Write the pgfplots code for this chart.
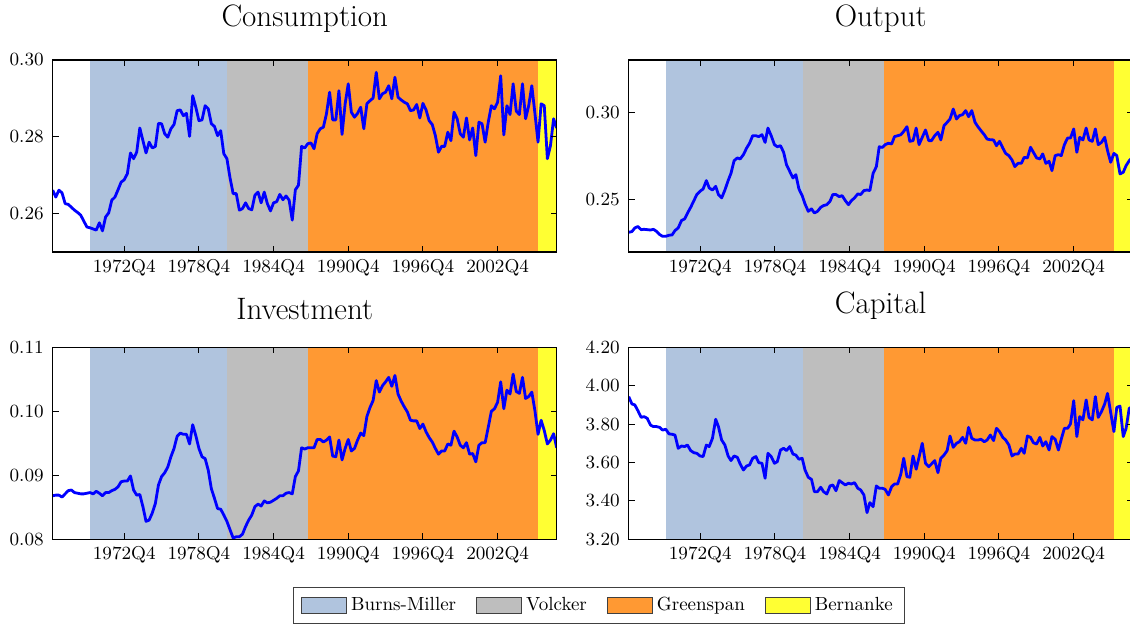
\documentclass[border=0pt]{standalone}
\usepackage{pgfplots}
\pgfplotsset{compat=1.18}
\definecolor{burns}{HTML}{B0C4DE}
\definecolor{volcker}{HTML}{BEBEBE}
\definecolor{greenspan}{HTML}{FF9933}
\definecolor{bernanke}{HTML}{FFFF33}
\definecolor{lineblue}{HTML}{0000FF}

% Fed chair regimes as shaded bands, #1 = ymin, #2 = ymax
\newcommand{\regimes}[2]{%
  \addplot[draw=none, fill=burns] coordinates {(1970,#1) (1970,#2) (1981,#2) (1981,#1)};
  \addplot[draw=none, fill=volcker] coordinates {(1981,#1) (1981,#2) (1987.5,#2) (1987.5,#1)};
  \addplot[draw=none, fill=greenspan] coordinates {(1987.5,#1) (1987.5,#2) (2006,#2) (2006,#1)};
  \addplot[draw=none, fill=bernanke] coordinates {(2006,#1) (2006,#2) (2007.5,#2) (2007.5,#1)};
}

\pgfplotsset{
  panel/.style={
    width=252pt, height=96pt, scale only axis,
    anchor=north west,
    xmin=1967, xmax=2007.5,
    axis on top,
    xtick={1972.75,1978.75,1984.75,1990.75,1996.75,2002.75},
    xticklabels={1972Q4,1978Q4,1984Q4,1990Q4,1996Q4,2002Q4},
    xtick pos=both, ytick pos=both,
    xticklabel pos=lower, yticklabel pos=left,
    tick align=inside,
    major tick length=3pt,
    minor tick num=0,
    tick style={black, line width=0.5pt},
    axis line style={black, line width=0.6pt},
    scaled y ticks=false,
    /pgf/number format/fixed,
    /pgf/number format/fixed zerofill,
    /pgf/number format/precision=2,
    /pgf/number format/assume math mode=true,
    ticklabel style={font=\fontsize{9.3}{11}\selectfont},
    yticklabel style={xshift=-1pt},
    title style={font=\fontsize{15.5}{18}\selectfont, at={(0.5,1)}, anchor=south, inner sep=0pt, yshift=7.5pt},
  },
  series/.style={color=lineblue, line width=1.4pt, line join=round, mark=none},
}

\begin{document}
\begin{tikzpicture}

\begin{axis}[panel, at={(26.35pt,-30pt)}, title={Consumption},
  ymin=0.25, ymax=0.30, ytick={0.26,0.28,0.30}]
\regimes{0.25}{0.30}
\addplot[series] coordinates {
(1967.00,0.2661) (1967.25,0.2643) (1967.50,0.2661) (1967.75,0.2654) (1968.00,0.2626) (1968.25,0.2624)
(1968.75,0.2609) (1969.00,0.2603) (1969.25,0.2596) (1969.75,0.2565) (1970.00,0.2563) (1970.50,0.2557)
(1970.75,0.2576) (1971.00,0.2555) (1971.25,0.2591) (1971.50,0.2602) (1971.75,0.2635) (1972.00,0.2643)
(1972.25,0.2662) (1972.50,0.2682) (1972.75,0.2688) (1973.00,0.2704) (1973.25,0.2758) (1973.50,0.2743)
(1973.75,0.2760) (1974.00,0.2823) (1974.25,0.2790) (1974.50,0.2758) (1974.75,0.2786) (1975.00,0.2771)
(1975.25,0.2775) (1975.50,0.2835) (1975.75,0.2834) (1976.00,0.2808) (1976.25,0.2799) (1976.50,0.2821)
(1976.75,0.2832) (1977.00,0.2868) (1977.25,0.2870) (1977.50,0.2855) (1977.75,0.2861) (1978.00,0.2801)
(1978.25,0.2907) (1978.50,0.2877) (1978.75,0.2842) (1979.00,0.2844) (1979.25,0.2881) (1979.50,0.2873)
(1979.75,0.2834) (1980.00,0.2827) (1980.25,0.2803) (1980.50,0.2816) (1980.75,0.2756) (1981.00,0.2743)
(1981.25,0.2693) (1981.50,0.2652) (1981.75,0.2652) (1982.00,0.2609) (1982.25,0.2613) (1982.50,0.2628)
(1982.75,0.2613) (1983.00,0.2610) (1983.25,0.2648) (1983.50,0.2656) (1983.75,0.2628) (1984.00,0.2656)
(1984.25,0.2626) (1984.50,0.2607) (1984.75,0.2628) (1985.00,0.2631) (1985.25,0.2650) (1985.50,0.2636)
(1985.75,0.2646) (1986.00,0.2635) (1986.25,0.2583) (1986.50,0.2662) (1986.75,0.2674) (1987.00,0.2775)
(1987.25,0.2771) (1987.50,0.2782) (1987.75,0.2784) (1988.00,0.2769) (1988.25,0.2808) (1988.50,0.2821)
(1988.75,0.2825) (1989.00,0.2860) (1989.25,0.2916) (1989.50,0.2844) (1989.75,0.2844) (1990.00,0.2920)
(1990.25,0.2806) (1990.50,0.2886) (1990.75,0.2938) (1991.00,0.2864) (1991.25,0.2851) (1991.50,0.2861)
(1991.75,0.2877) (1992.00,0.2821) (1992.25,0.2886) (1992.50,0.2894) (1992.75,0.2901) (1993.00,0.2968)
(1993.25,0.2899) (1993.50,0.2912) (1993.75,0.2916) (1994.00,0.2933) (1994.25,0.2899) (1994.50,0.2955)
(1994.75,0.2903) (1995.00,0.2896) (1995.25,0.2890) (1995.50,0.2886) (1995.75,0.2868) (1996.00,0.2870)
(1996.25,0.2884) (1996.50,0.2849) (1996.75,0.2887) (1997.00,0.2870) (1997.25,0.2842) (1997.50,0.2832)
(1997.75,0.2803) (1998.00,0.2760) (1998.25,0.2775) (1998.50,0.2775) (1998.75,0.2812) (1999.00,0.2790)
(1999.25,0.2864) (1999.50,0.2847) (1999.75,0.2808) (2000.00,0.2799) (2000.25,0.2849) (2000.50,0.2792)
(2000.75,0.2823) (2001.00,0.2751) (2001.25,0.2838) (2001.50,0.2834) (2001.75,0.2786) (2002.00,0.2838)
(2002.25,0.2881) (2002.50,0.2873) (2002.75,0.2890) (2003.00,0.2959) (2003.25,0.2805) (2003.50,0.2881)
(2003.75,0.2858) (2004.00,0.2938) (2004.25,0.2867) (2004.50,0.2858) (2004.75,0.2938) (2005.00,0.2847)
(2005.25,0.2881) (2005.50,0.2933) (2005.75,0.2861) (2006.00,0.2786) (2006.25,0.2886) (2006.50,0.2881)
(2006.75,0.2743) (2007.00,0.2777) (2007.25,0.2847) (2007.50,0.2823)
};
\end{axis}

\begin{axis}[panel, at={(314.35pt,-30pt)}, title={Output},
  ymin=0.22, ymax=0.33, ytick={0.25,0.30}]
\regimes{0.22}{0.33}
\addplot[series] coordinates {
(1967.00,0.2313) (1967.26,0.2317) (1967.49,0.2338) (1967.74,0.2346) (1968.00,0.2328) (1968.23,0.2330)
(1968.49,0.2328) (1968.75,0.2326) (1968.98,0.2330) (1969.23,0.2319) (1969.49,0.2300) (1969.72,0.2290)
(1969.98,0.2290) (1970.24,0.2296) (1970.49,0.2298) (1970.72,0.2323) (1970.98,0.2338) (1971.24,0.2380)
(1971.49,0.2389) (1971.72,0.2422) (1971.98,0.2456) (1972.24,0.2494) (1972.47,0.2529) (1972.73,0.2548)
(1972.98,0.2561) (1973.24,0.2609) (1973.47,0.2567) (1973.73,0.2555) (1973.99,0.2576) (1974.21,0.2529)
(1974.47,0.2510) (1974.73,0.2555) (1974.99,0.2609) (1975.22,0.2651) (1975.47,0.2723) (1975.73,0.2739)
(1975.96,0.2733) (1976.22,0.2758) (1976.48,0.2796) (1976.71,0.2823) (1976.96,0.2866) (1977.22,0.2866)
(1977.45,0.2861) (1977.71,0.2872) (1977.96,0.2828) (1978.19,0.2910) (1978.45,0.2866) (1978.71,0.2815)
(1978.94,0.2803) (1979.20,0.2809) (1979.45,0.2771) (1979.68,0.2700) (1979.94,0.2662) (1980.20,0.2624)
(1980.43,0.2643) (1980.68,0.2561) (1980.94,0.2523) (1981.17,0.2475) (1981.43,0.2433) (1981.69,0.2447)
(1981.92,0.2424) (1982.17,0.2433) (1982.43,0.2456) (1982.66,0.2466) (1982.92,0.2471) (1983.18,0.2491)
(1983.40,0.2529) (1983.66,0.2529) (1983.92,0.2517) (1984.15,0.2523) (1984.41,0.2494) (1984.66,0.2471)
(1984.89,0.2494) (1985.15,0.2510) (1985.41,0.2533) (1985.64,0.2529) (1985.90,0.2552) (1986.15,0.2555)
(1986.38,0.2552) (1986.64,0.2651) (1986.90,0.2689) (1987.13,0.2803) (1987.38,0.2799) (1987.61,0.2815)
(1987.87,0.2823) (1988.13,0.2819) (1988.36,0.2861) (1988.61,0.2866) (1988.87,0.2872) (1989.10,0.2891)
(1989.36,0.2918) (1989.59,0.2834) (1989.85,0.2838) (1990.10,0.2910) (1990.33,0.2815) (1990.59,0.2857)
(1990.85,0.2899) (1991.11,0.2838) (1991.33,0.2838) (1991.59,0.2866) (1991.85,0.2886) (1992.08,0.2842)
(1992.34,0.2924) (1992.59,0.2943) (1992.82,0.2962) (1993.08,0.3019) (1993.34,0.2962) (1993.57,0.2981)
(1993.83,0.2987) (1994.08,0.3010) (1994.31,0.2975) (1994.57,0.3010) (1994.83,0.2943) (1995.06,0.2918)
(1995.31,0.2895) (1995.57,0.2872) (1995.80,0.2847) (1996.06,0.2843) (1996.32,0.2842) (1996.55,0.2809)
(1996.80,0.2834) (1997.06,0.2796) (1997.29,0.2765) (1997.55,0.2752) (1997.80,0.2727) (1998.03,0.2689)
(1998.29,0.2708) (1998.55,0.2708) (1998.78,0.2742) (1999.04,0.2739) (1999.29,0.2800) (1999.52,0.2771)
(1999.78,0.2739) (2000.04,0.2733) (2000.27,0.2762) (2000.52,0.2708) (2000.78,0.2720) (2001.01,0.2666)
(2001.27,0.2752) (2001.53,0.2758) (2001.76,0.2752) (2002.01,0.2815) (2002.27,0.2853) (2002.50,0.2853)
(2002.76,0.2905) (2003.01,0.2771) (2003.24,0.2857) (2003.50,0.2842) (2003.76,0.2910) (2003.99,0.2842)
(2004.25,0.2834) (2004.50,0.2905) (2004.73,0.2815) (2004.99,0.2828) (2005.25,0.2857) (2005.48,0.2780)
(2005.73,0.2714) (2005.99,0.2765) (2006.22,0.2752) (2006.48,0.2647) (2006.74,0.2657) (2006.97,0.2695)
(2007.22,0.2723) (2007.48,0.2742)
};
\end{axis}

\begin{axis}[panel, at={(26.35pt,-173.65pt)}, title={Investment},
  ymin=0.08, ymax=0.11, ytick={0.08,0.09,0.10,0.11}]
\regimes{0.08}{0.11}
\addplot[series] coordinates {
(1967.00,0.0868) (1967.25,0.0869) (1967.50,0.0869) (1967.75,0.0866) (1968.00,0.0871) (1968.25,0.0876)
(1968.50,0.0877) (1968.75,0.0873) (1969.00,0.0872) (1969.25,0.0871) (1969.50,0.0871) (1969.75,0.0872)
(1970.00,0.0873) (1970.25,0.0871) (1970.50,0.0875) (1970.75,0.0872) (1971.00,0.0868) (1971.25,0.0873)
(1971.50,0.0873) (1971.75,0.0876) (1972.00,0.0878) (1972.25,0.0882) (1972.50,0.0890) (1972.75,0.0891)
(1973.00,0.0891) (1973.25,0.0899) (1973.50,0.0877) (1973.75,0.0869) (1974.00,0.0870) (1974.25,0.0851)
(1974.50,0.0828) (1974.75,0.0830) (1975.00,0.0841) (1975.25,0.0856) (1975.50,0.0885) (1975.75,0.0898)
(1976.00,0.0904) (1976.25,0.0913) (1976.50,0.0929) (1976.75,0.0942) (1977.00,0.0961) (1977.25,0.0966)
(1977.50,0.0964) (1977.75,0.0964) (1978.00,0.0949) (1978.25,0.0979) (1978.50,0.0962) (1978.75,0.0942)
(1979.00,0.0929) (1979.25,0.0926) (1979.50,0.0908) (1979.75,0.0879) (1980.00,0.0864) (1980.25,0.0848)
(1980.50,0.0847) (1980.75,0.0838) (1981.00,0.0828) (1981.25,0.0815) (1981.50,0.0802) (1981.75,0.0804)
(1982.00,0.0804) (1982.25,0.0808) (1982.50,0.0820) (1982.75,0.0830) (1983.00,0.0838) (1983.25,0.0851)
(1983.50,0.0855) (1983.75,0.0852) (1984.00,0.0860) (1984.25,0.0857) (1984.50,0.0858) (1984.75,0.0861)
(1985.00,0.0864) (1985.25,0.0868) (1985.50,0.0868) (1985.75,0.0872) (1986.00,0.0873) (1986.25,0.0871)
(1986.50,0.0898) (1986.75,0.0907) (1987.00,0.0943) (1987.25,0.0941) (1987.50,0.0943) (1987.75,0.0943)
(1988.00,0.0943) (1988.25,0.0956) (1988.50,0.0956) (1988.75,0.0952) (1989.00,0.0955) (1989.25,0.0960)
(1989.50,0.0930) (1989.75,0.0929) (1990.00,0.0955) (1990.25,0.0924) (1990.50,0.0942) (1990.75,0.0956)
(1991.00,0.0938) (1991.25,0.0942) (1991.50,0.0955) (1991.75,0.0966) (1992.00,0.0962) (1992.25,0.0992)
(1992.50,0.1006) (1992.75,0.1017) (1993.00,0.1048) (1993.25,0.1030) (1993.50,0.1040) (1993.75,0.1046)
(1994.00,0.1053) (1994.25,0.1039) (1994.50,0.1056) (1994.75,0.1027) (1995.00,0.1016) (1995.25,0.1007)
(1995.50,0.0999) (1995.75,0.0986) (1996.00,0.0985) (1996.25,0.0985) (1996.50,0.0973) (1996.75,0.0980)
(1997.00,0.0968) (1997.25,0.0959) (1997.50,0.0952) (1997.75,0.0942) (1998.00,0.0933) (1998.25,0.0938)
(1998.50,0.0938) (1998.75,0.0949) (1999.00,0.0947) (1999.25,0.0969) (1999.50,0.0960) (1999.75,0.0947)
(2000.00,0.0943) (2000.25,0.0951) (2000.50,0.0933) (2000.75,0.0934) (2001.00,0.0921) (2001.25,0.0947)
(2001.50,0.0951) (2001.75,0.0951) (2002.00,0.0975) (2002.25,0.1000) (2002.50,0.1004) (2002.75,0.1014)
(2003.00,0.1046) (2003.25,0.1004) (2003.50,0.1033) (2003.75,0.1027) (2004.00,0.1058) (2004.25,0.1031)
(2004.50,0.1028) (2004.75,0.1053) (2005.00,0.1020) (2005.25,0.1023) (2005.50,0.1030) (2005.75,0.1001)
(2006.00,0.0964) (2006.25,0.0986) (2006.50,0.0970) (2006.75,0.0949) (2007.00,0.0955) (2007.25,0.0965)
(2007.50,0.0943)
};
\end{axis}

\begin{axis}[panel, at={(314.35pt,-173.65pt)}, title={Capital},
  ymin=3.2, ymax=4.2, ytick={3.2,3.4,3.6,3.8,4.0,4.2},
  legend columns=4,
  legend style={at={(-0.059,-0.345)}, anchor=center, draw=black!75, line width=0.5pt,
    font=\fontsize{9.5}{11}\selectfont, inner xsep=4pt, inner ysep=3pt,
    /tikz/every even column/.append style={column sep=8pt}},
  legend image code/.code={\draw[#1, draw=black!75, line width=0.5pt] (0pt,-4pt) rectangle (22.5pt,4pt);}]
\regimes{3.2}{4.2}
\addplot[series] coordinates {
(1967.00,3.943) (1967.26,3.905) (1967.49,3.900) (1967.74,3.870) (1968.00,3.835) (1968.23,3.839)
(1968.49,3.830) (1968.75,3.795) (1968.98,3.787) (1969.23,3.787) (1969.49,3.783) (1969.72,3.769)
(1969.98,3.773) (1970.24,3.749) (1970.49,3.747) (1970.72,3.743) (1970.98,3.674) (1971.24,3.686)
(1971.49,3.683) (1971.72,3.691) (1971.98,3.662) (1972.24,3.651) (1972.47,3.648) (1972.73,3.634)
(1972.98,3.631) (1973.24,3.691) (1973.47,3.683) (1973.73,3.726) (1973.99,3.825) (1974.21,3.787)
(1974.47,3.717) (1974.73,3.691) (1974.99,3.634) (1975.22,3.610) (1975.47,3.634) (1975.73,3.627)
(1975.96,3.592) (1976.22,3.561) (1976.48,3.582) (1976.71,3.587) (1976.96,3.622) (1977.22,3.631)
(1977.45,3.599) (1977.71,3.596) (1977.96,3.518) (1978.19,3.648) (1978.45,3.631) (1978.71,3.596)
(1978.94,3.604) (1979.20,3.665) (1979.45,3.674) (1979.68,3.662) (1979.94,3.683) (1980.20,3.644)
(1980.43,3.639) (1980.68,3.617) (1980.94,3.622) (1981.17,3.561) (1981.43,3.523) (1981.69,3.512)
(1981.92,3.448) (1982.17,3.448) (1982.43,3.471) (1982.66,3.448) (1982.92,3.436) (1983.18,3.478)
(1983.40,3.483) (1983.66,3.453) (1983.92,3.506) (1984.15,3.495) (1984.41,3.483) (1984.66,3.492)
(1984.89,3.488) (1985.15,3.495) (1985.41,3.466) (1985.64,3.457) (1985.90,3.431) (1986.15,3.339)
(1986.38,3.391) (1986.64,3.370) (1986.90,3.478) (1987.13,3.466) (1987.38,3.466) (1987.61,3.460)
(1987.87,3.431) (1988.13,3.474) (1988.36,3.488) (1988.61,3.488) (1988.87,3.540) (1989.10,3.622)
(1989.36,3.526) (1989.59,3.523) (1989.85,3.634) (1990.10,3.565) (1990.33,3.627) (1990.59,3.700)
(1990.85,3.596) (1991.11,3.578) (1991.33,3.592) (1991.59,3.610) (1991.85,3.547) (1992.08,3.622)
(1992.34,3.639) (1992.59,3.662) (1992.82,3.738) (1993.08,3.679) (1993.34,3.700) (1993.57,3.708)
(1993.83,3.731) (1994.08,3.700) (1994.31,3.783) (1994.57,3.726) (1994.83,3.717) (1995.06,3.717)
(1995.31,3.721) (1995.57,3.708) (1995.80,3.717) (1996.06,3.743) (1996.32,3.714) (1996.55,3.778)
(1996.80,3.761) (1997.06,3.731) (1997.29,3.717) (1997.55,3.691) (1997.80,3.634) (1998.03,3.644)
(1998.29,3.644) (1998.55,3.674) (1998.78,3.648) (1999.04,3.738) (1999.29,3.731) (1999.52,3.703)
(1999.78,3.696) (2000.04,3.731) (2000.27,3.686) (2000.52,3.708) (2000.78,3.665) (2001.01,3.735)
(2001.27,3.721) (2001.53,3.665) (2001.76,3.721) (2002.01,3.778) (2002.27,3.778) (2002.50,3.801)
(2002.76,3.922) (2003.01,3.735) (2003.24,3.839) (2003.50,3.822) (2003.76,3.926) (2003.99,3.835)
(2004.25,3.822) (2004.50,3.943) (2004.73,3.835) (2004.99,3.865) (2005.25,3.905) (2005.48,3.960)
(2005.73,3.860) (2005.99,3.761) (2006.22,3.887) (2006.48,3.894) (2006.74,3.735) (2006.97,3.778)
(2007.22,3.882) (2007.48,3.891)
};
\legend{Burns-Miller,Volcker,Greenspan,Bernanke}
\end{axis}

% the reference is cropped a few pixels into the right-hand panels
\pgfresetboundingbox
\path[use as bounding box] (0,0) rectangle (565pt,-312.5pt);
\end{tikzpicture}
\end{document}
